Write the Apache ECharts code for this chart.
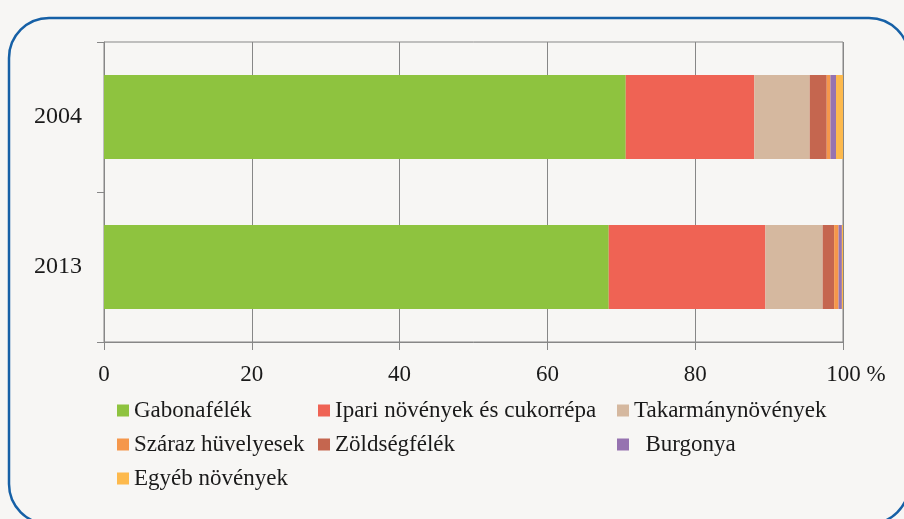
<!DOCTYPE html>
<html>
<head>
<meta charset="utf-8">
<script src="https://cdn.jsdelivr.net/npm/echarts@6/dist/echarts.min.js"></script>
<style>
html,body{margin:0;padding:0;background:#f7f6f4;}
#c{width:904px;height:519px;}
</style>
</head>
<body>
<div id="c"></div>
<script>
const years = ['2004', '2013'];
const gabona = [70.6, 68.3];
const ipari = [17.4, 21.2];
const takarmany = [7.5, 7.75];
const zoldseg = [2.3, 1.55];
const szaraz = [0.5, 0.6];
const burgonya = [0.75, 0.45];
const egyeb = [0.95, 0.15];
const xTicks = [0, 20, 40, 60, 80, 100];

const FONT = 'Liberation Serif';
const FS = 23;
const chart = echarts.init(document.getElementById('c'), null, {renderer: 'canvas'});

const seriesDefs = [
  ['Gabonafélék', gabona, '#8ec33f'],
  ['Ipari növények és cukorrépa', ipari, '#ef6354'],
  ['Takarmánynövények', takarmany, '#d5b89f'],
  ['Zöldségfélék', zoldseg, '#c5664f'],
  ['Száraz hüvelyesek', szaraz, '#f5974b'],
  ['Burgonya', burgonya, '#9673b0'],
  ['Egyéb növények', egyeb, '#fdb94c']
];

const legendBase = {
  orient: 'vertical',
  top: 398,
  padding: 0,
  itemWidth: 12,
  itemHeight: 12,
  itemGap: 9,
  icon: 'rect',
  textStyle: {fontFamily: FONT, fontSize: FS, color: '#1a1a1a', lineHeight: 25, padding: [0,0,0,0]}
};

chart.setOption({
  backgroundColor: '#f7f6f4',
  animation: false,
  graphic: [{
    type: 'rect',
    shape: {x: 9, y: 18, width: 900, height: 506, r: 40},
    style: {fill: 'none', stroke: '#1660a6', lineWidth: 2.5},
    z: 100
  }],
  grid: {left: 104, right: 61, top: 42, bottom: 177, show: true, borderColor: '#878787', borderWidth: 1, backgroundColor: 'transparent'},
  legend: [
    Object.assign({}, legendBase, {left: 117, data: ['Gabonafélék', 'Száraz hüvelyesek', 'Egyéb növények']}),
    Object.assign({}, legendBase, {left: 318, data: ['Ipari növények és cukorrépa', 'Zöldségfélék']}),
    Object.assign({}, legendBase, {left: 617, data: ['Takarmánynövények', 'Burgonya'],
      formatter: n => n === 'Burgonya' ? '  ' + n : n})
  ],
  xAxis: {
    type: 'value', min: xTicks[0], max: xTicks[xTicks.length - 1], interval: 20,
    axisLine: {show: true, lineStyle: {color: '#878787', width: 1}},
    axisTick: {show: true, length: 8, lineStyle: {color: '#878787'}},
    splitLine: {show: true, lineStyle: {color: '#878787', width: 1}},
    axisLabel: {
      fontFamily: FONT, fontSize: FS, color: '#1a1a1a', margin: 21,
      formatter: v => v === 100 ? '{p|}{t|100 %}' : '{t|' + v + '}',
      rich: {p: {width: 26}, t: {fontFamily: FONT, fontSize: FS, color: '#1a1a1a'}}
    }
  },
  yAxis: {
    type: 'category', data: years, inverse: true,
    axisLine: {show: true, lineStyle: {color: '#878787', width: 1}},
    axisTick: {show: true, length: 7, lineStyle: {color: '#878787'}},
    axisLabel: {fontFamily: FONT, fontSize: FS + 1, color: '#1a1a1a', margin: 22}
  },
  series: seriesDefs.map(([name, data, color]) => ({
    name, type: 'bar', stack: 'total', data, barWidth: '56%',
    itemStyle: {color}, emphasis: {disabled: true}
  }))
});
</script>
</body>
</html>
